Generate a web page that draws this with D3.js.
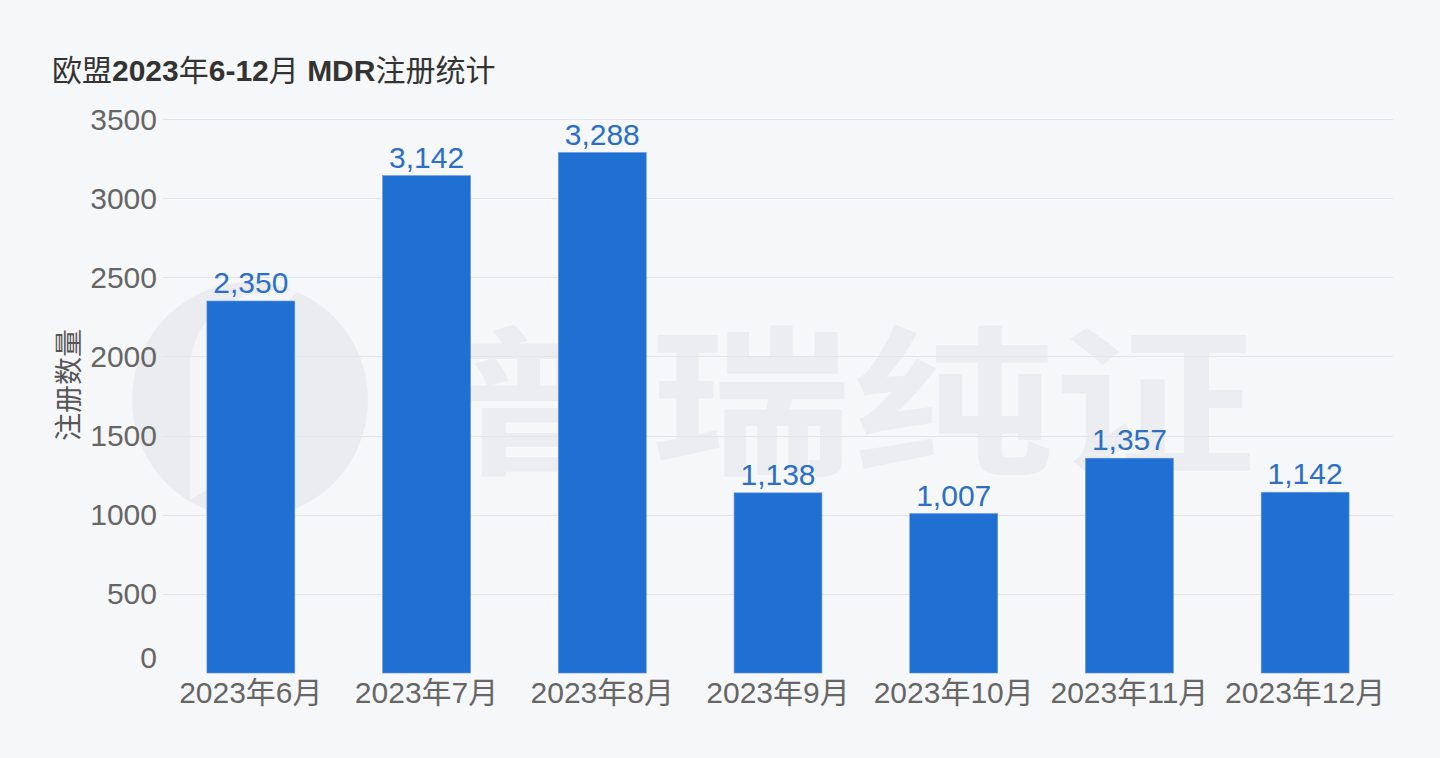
<!DOCTYPE html>
<html><head><meta charset="utf-8">
<script src="https://cdn.jsdelivr.net/npm/d3@7"></script>
<style>html,body{margin:0;padding:0;background:#f6f7f9;}svg{display:block;}</style>
</head><body>
<svg id="c" width="1440" height="758"></svg>
<script>
const categories = ["2023年6月","2023年7月","2023年8月","2023年9月","2023年10月","2023年11月","2023年12月"];
const values = [2350, 3142, 3288, 1138, 1007, 1357, 1142];
const yTicks = [0, 500, 1000, 1500, 2000, 2500, 3000, 3500];
const titleParts = [["欧盟",false],["2023",true],["年",false],["6-12",true],["月",false],[" MDR",true],["注册统计",false]];
const yAxisTitle = "注册数量";
const watermarkText = "普瑞纯证";

const svg = d3.select("#c");
const W = 1440, H = 758;
const m = {left:163, right:1393, top:119, bottom:673};
const font = "'Liberation Sans', Arial, 'Noto Sans CJK SC', sans-serif";

svg.append("rect").attr("width",W).attr("height",H).attr("fill","#f6f7f9");

const x = d3.scaleBand().domain(categories).range([m.left, m.right]).paddingInner(0.5).paddingOuter(0.25);
const y = d3.scaleLinear().domain([0,3500]).range([m.bottom, m.top]);

// watermark
const wm = svg.append("g");
wm.append("circle").attr("cx",250).attr("cy",400).attr("r",118).attr("fill","#ebecef");
wm.append("path").attr("d","M190,500 L190,360 Q200,300 270,290 L300,290 Q250,330 240,380 L240,470 Z").attr("fill","#f4f5f7");
wm.append("g").attr("transform","translate(448,462) scale(1,0.8)")
  .append("text").attr("x",0).attr("y",0).attr("font-size",200).attr("font-weight","bold")
  .attr("font-family","'Noto Sans CJK SC', sans-serif").attr("fill","#ecedf0")
  .attr("textLength",808).attr("lengthAdjust","spacingAndGlyphs")
  .text(watermarkText);

// gridlines
svg.append("g").selectAll("line").data(yTicks.filter(d=>d>0)).join("line")
  .attr("x1",m.left).attr("x2",m.right).attr("y1",d=>Math.round(y(d))+0.5).attr("y2",d=>Math.round(y(d))+0.5)
  .attr("stroke","#e3e5ea").attr("stroke-width",1);

// y labels
svg.append("g").selectAll("text").data(yTicks).join("text")
  .attr("x",157).attr("y",d=>Math.min(y(d), m.bottom-16)).attr("dy","0.35em")
  .attr("text-anchor","end").attr("font-family",font).attr("font-size",30).attr("fill","#666")
  .text(d=>d);

// y title
svg.append("text").attr("transform","translate(79,385) rotate(-90)").attr("text-anchor","middle")
  .attr("font-family","'Noto Sans CJK SC', sans-serif").attr("font-size",28).attr("fill","#555")
  .text(yAxisTitle);

// bars
svg.append("g").selectAll("rect").data(values).join("rect")
  .attr("x",(d,i)=>x(categories[i])).attr("width",x.bandwidth())
  .attr("y",d=>y(d)).attr("height",d=>y(0)-y(d))
  .attr("fill","#206fd3").attr("stroke","#5b93e0").attr("stroke-width",0.6);

// value labels
const fmt = d3.format(",");
svg.append("g").selectAll("text").data(values).join("text")
  .attr("x",(d,i)=>x(categories[i])+x.bandwidth()/2).attr("y",d=>y(d)-8)
  .attr("text-anchor","middle").attr("font-family",font).attr("font-size",30).attr("fill","#2b6fca")
  .text(d=>fmt(d));

// x labels
svg.append("g").selectAll("text").data(categories).join("text")
  .attr("x",d=>x(d)+x.bandwidth()/2).attr("y",703)
  .attr("text-anchor","middle").attr("font-family",font).attr("font-size",30).attr("fill","#666")
  .text(d=>d);

// title
const t = svg.append("text").attr("x",52).attr("y",81).attr("font-family",font).attr("font-size",30).attr("fill","#333");
titleParts.forEach(([s,b])=>{ t.append("tspan").attr("font-weight",b?"bold":"normal").attr("xml:space","preserve").text(s); });
</script>
</body></html>
